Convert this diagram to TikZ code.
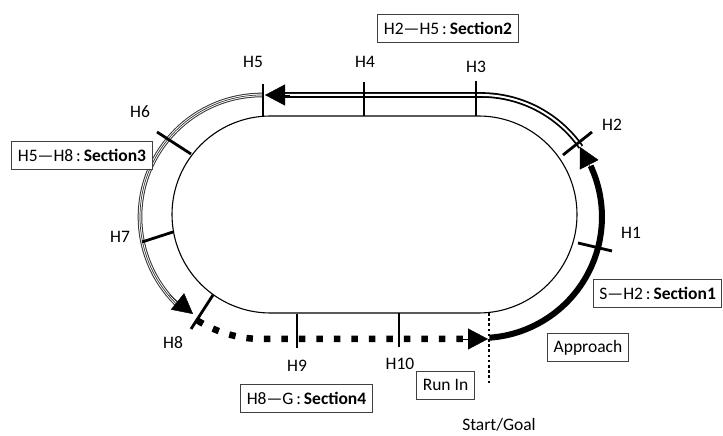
\documentclass[tikz,border=0pt]{standalone}
\usepackage{fontspec}
\setmainfont{Carlito}
\usetikzlibrary{arrows.meta}
\begin{document}
\begin{tikzpicture}[x=1pt,y=1pt,
  lbl/.style={font=\fontsize{17.5}{20}\selectfont, inner sep=0pt},
  box/.style={draw=black!75, line width=0.8pt, fill=white, font=\fontsize{17.5}{20}\selectfont, inner xsep=6pt, minimum height=28pt},
  tick/.style={line width=2.8pt},
  innertrack/.style={line width=1.1pt},
  head/.style={-{Triangle[length=20pt,width=21pt]}, line width=0.4pt},
  twoline/.style={line width=1.8pt, double distance=2pt, double=white},
  threeline/.style={line width=1pt, double distance=2.6pt, double=white, draw=black!80},
  dashedthick/.style={line width=6.5pt, dash pattern=on 6.5pt off 11pt},
  dottedline/.style={line width=2.5pt, dash pattern=on 2.6pt off 2.6pt},
]
\useasboundingbox (0,0) rectangle (723,436);
% inner track
\draw[innertrack] (270.5,320) -- (478.5,320) arc[start angle=90,end angle=-90,radius=98.5] -- (270.5,123) arc[start angle=270,end angle=90,radius=98.5] -- cycle;

% Section 2 (double line)
\draw[twoline] (580.9,289.0) arc[start angle=35,end angle=90,radius=122] -- (283,341);
\draw[head] (290,341) -- (265,341);

% Section 3 (triple line)
\draw[threeline] (262,341) arc[start angle=90,end angle=226,radius=122];
\draw[line width=0.7pt, black!80] (262,341) arc[start angle=90,end angle=226,radius=122];
\draw[head] (169.3,141.2) -- (193,122);

% Section 4 (dashed thick)
\draw[dashedthick] (197.35,115.54) arc[start angle=238,end angle=270,radius=122] -- (468,97);
\draw[head] (460,97) -- (488,97);

% Section 1 (thick)
\draw[line width=6pt] (489.4,98.3) arc[start angle=-86,end angle=25,radius=121];
\draw[head] (594.7,260.4) -- (580,289);

% start/goal line
\draw[dottedline] (489,123) -- (489,51);

% ticks
\draw[tick] (578,193) -- (612,185);
\draw[tick] (563,281) -- (592,304);
\draw[tick] (476,355) -- (476,320);
\draw[tick] (364,354) -- (364,320);
\draw[tick] (263,352) -- (263,320);
\draw[tick] (157,304) -- (191,282);
\draw[tick] (142,194) -- (173,204);
\draw[tick] (191,107) -- (213,141);
\draw[tick] (297,122) -- (297,88);
\draw[tick] (399,123) -- (399,89);

% tick labels
\node[lbl] (h1) at (631,203) {H1};
\node[lbl] (h2) at (612,311) {H2};
\node[lbl] (h3) at (476,369) {H3};
\node[lbl] (h4) at (365,374) {H4};
\node[lbl] (h5) at (253,374) {H5};
\node[lbl] (h6) at (140,324) {H6};
\node[lbl] (h7) at (120,199) {H7};
\node[lbl] (h8) at (173,93) {H8};
\node[lbl] (h9) at (297,70) {H9};
\node[lbl] (h10) at (400,72) {H10};
\node[lbl] (sg) at (499,11) {Start/Goal};

% boxes
\node[box] (s2) at (448,408) {H2—H5\,:\,\textbf{Section2}};
\node[box] (s3) at (82,281) {H5—H8\,:\,\textbf{Section3}};
\node[box] (s4) at (306.5,38) {H8—G\,:\,\textbf{Section4}};
\node[box, anchor=west] (s1) at (593,143) {S—H2\,:\,\textbf{Section1}};
\node[box] (ap) at (588,88.5) {Approach};
\node[box] (ri) at (445.5,51) {Run In};
\end{tikzpicture}
\end{document}
